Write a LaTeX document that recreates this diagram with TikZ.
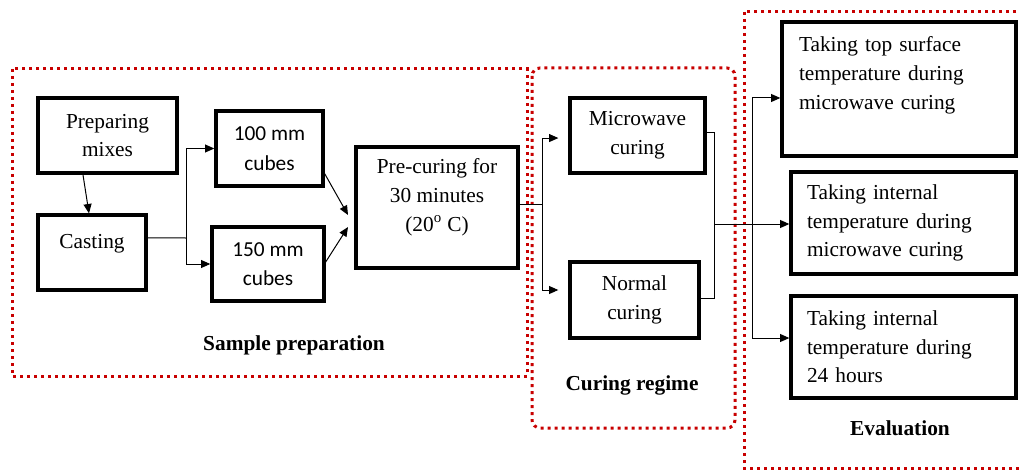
\documentclass[tikz,border=0pt]{standalone}
\usepackage{fontspec}
\setmainfont{Liberation Serif}
\newfontfamily\cubefont{Carlito}
\usepackage{tikz}
\usetikzlibrary{arrows.meta}

\definecolor{grpred}{RGB}{200,0,0}

\begin{document}
\begin{tikzpicture}[x=0.75pt,y=0.75pt,yscale=-1,xscale=1,
  procbox/.style={draw, line width=2.5pt, align=center, inner sep=0pt,
    font=\fontsize{16}{21.5}\selectfont},
  evalbox/.style={draw, line width=2.5pt, align=left, inner ysep=0pt, inner xsep=12pt,
    font=\fontsize{16}{21.5}\selectfont},
  grouprect/.style={draw=grpred, line width=2.25pt, dash pattern=on 2.25pt off 3pt},
  grouplabel/.style={font=\fontsize{16}{21}\selectfont\bfseries, inner sep=0.75pt},
  conn/.style={line width=0.75pt},
  arr/.style={conn, -{Triangle[length=7pt,width=6pt]}}]
\useasboundingbox (0,0) rectangle (1019,470);

%Group frames
\draw [grouprect] (12,69) rectangle (527,376) ;
\draw [grouprect, rounded corners=6pt] (532,68) rectangle (735,428) ;
\draw [grouprect] (744,12) rectangle (1040,468) ;

% Sample preparation
\node [procbox, minimum width=104.25pt, minimum height=56.25pt] (mix) at (107.5,135.5) {Preparing\\mixes};
\node [procbox, minimum width=81pt, minimum height=56.25pt, text height=12pt, text depth=18pt] (cast) at (92,252.5) {Casting};
\node [procbox, minimum width=80.25pt, minimum height=56.25pt, font=\fontsize{16}{22}\cubefont] (c100) at (269.5,148.5) {100 mm\\cubes};
\node [procbox, minimum width=84pt, minimum height=55.5pt, font=\fontsize{16}{22}\cubefont] (c150) at (268,264) {150 mm\\cubes};
\node [procbox, minimum width=121.5pt, minimum height=90.75pt] (pre) at (437,207.5) {Pre-curing for\\30 minutes\\(20\textsuperscript{o} C)\\[-9pt]\strut};
\node [grouplabel] (lblprep) at (294,345) {Sample preparation};

% Curing regime
\node [procbox, minimum width=101.25pt, minimum height=56.25pt] (micro) at (637.5,135.5) {Microwave\\curing};
\node [procbox, minimum width=96.75pt, minimum height=57pt] (normal) at (634.5,300) {Normal\\curing};
\node [grouplabel] (lblcure) at (632,385) {Curing regime};

% Evaluation
\node [evalbox, text width=150pt, inner xsep=12.75pt, minimum height=100.5pt] (top) at (899,89) {Taking top surface\\temperature during\\microwave curing\\[-4pt]\strut};
\node [evalbox, text width=144.75pt, minimum height=76.5pt] (intmw) at (903.5,223) {Taking internal\\temperature during\\microwave curing};
\node [evalbox, text width=144.75pt, minimum height=76.5pt] (int24) at (903.5,347) {Taking internal\\temperature during\\24 hours};
\node [grouplabel] (lbleval) at (900,428) {Evaluation};

% Junctions
\coordinate (s1) at (186,238);
\coordinate (in1) at (348,215);
\coordinate (in2) at (348,227);
\coordinate (s2) at (542,205);
\coordinate (m) at (714,224);
\coordinate (s3) at (752,224);

%Connectors
\draw [arr] ([xshift=-18.4pt]mix.south) -- ([xshift=-2.25pt]cast.north) ;
\draw [conn] ([yshift=-10.9pt]cast.east) -- (s1) ;
\draw [arr] (s1) |- (c100.west) ;
\draw [arr] (s1) |- (c150.west) ;
\draw [arr] ([yshift=-10.5pt]c100.south east) -- (in1) ;
\draw [arr] ([yshift=-1.5pt]c150.east) -- (in2) ;
\draw [conn] (pre.east |- s2) -- (s2) ;
\draw [arr, shorten >=7.5pt] (s2) |- ([yshift=1.9pt]micro.west) ;
\draw [arr, shorten >=7.5pt] (s2) |- ([yshift=-7.5pt]normal.west) ;
\draw [conn] ([yshift=-2pt]micro.east) -| (m) ;
\draw [conn] ([yshift=-1.5pt]normal.east) -| (m) ;
\draw [arr] (m) -- (m -| intmw.west) ;
\draw [arr] (s3) |- ([yshift=6.75pt]top.west) ;
\draw [arr] (s3) |- ([yshift=-6.75pt]int24.west) ;

\end{tikzpicture}
\end{document}
